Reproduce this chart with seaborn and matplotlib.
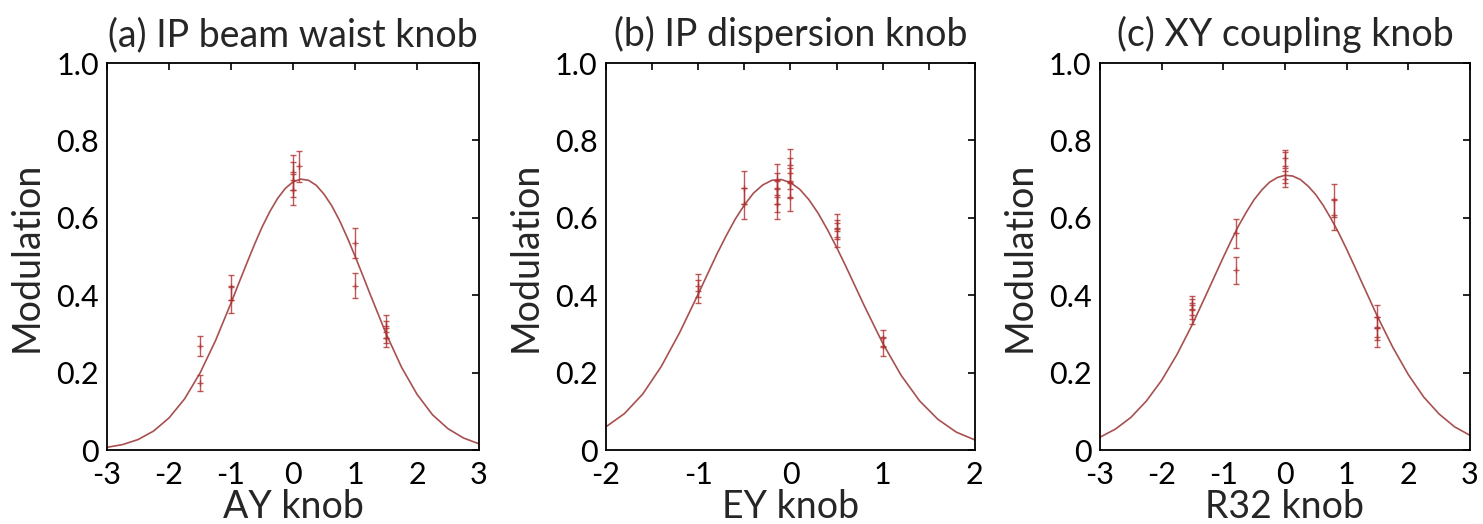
import numpy as np
import pandas as pd
import seaborn as sns
import matplotlib.pyplot as plt

# === fitted curves ===
curve_a_x = [-3.0, -2.75, -2.5, -2.25, -2.0, -1.75, -1.5, -1.25, -1.0, -0.875, -0.75, -0.625, -0.5,
             -0.375, -0.25, -0.125, 0.0, 0.125, 0.25, 0.375, 0.5, 0.625, 0.75, 0.875, 1.0, 1.125,
             1.25, 1.5, 1.75, 2.0, 2.25, 2.5, 2.75, 3.0]
curve_a_y = [0.007, 0.014, 0.027, 0.049, 0.083, 0.132, 0.199, 0.283, 0.380, 0.431, 0.481, 0.530, 0.576,
             0.616, 0.650, 0.676, 0.693, 0.700, 0.697, 0.684, 0.661, 0.631, 0.593, 0.549, 0.501, 0.451,
             0.400, 0.301, 0.214, 0.144, 0.091, 0.055, 0.031, 0.016]

curve_b_x = [-2.0, -1.8, -1.6, -1.4, -1.2, -1.0, -0.9, -0.8, -0.7, -0.6, -0.5, -0.4, -0.3, -0.2, -0.1,
             0.0, 0.1, 0.2, 0.3, 0.4, 0.5, 0.6, 0.7, 0.8, 1.0, 1.2, 1.4, 1.6, 1.8, 2.0]
curve_b_y = [0.060, 0.094, 0.145, 0.216, 0.304, 0.403, 0.454, 0.505, 0.552, 0.596, 0.633, 0.664, 0.685,
             0.697, 0.699, 0.691, 0.674, 0.647, 0.612, 0.570, 0.524, 0.475, 0.424, 0.373, 0.276, 0.193,
             0.127, 0.079, 0.046, 0.026]

curve_c_x = curve_a_x
curve_c_y = [0.033, 0.054, 0.084, 0.126, 0.180, 0.247, 0.325, 0.411, 0.498, 0.540, 0.580, 0.615, 0.647,
             0.672, 0.692, 0.704, 0.710, 0.708, 0.699, 0.682, 0.660, 0.631, 0.597, 0.560, 0.519, 0.476,
             0.432, 0.345, 0.265, 0.195, 0.137, 0.093, 0.060, 0.038]

# === measured points with errors ===
pts_a_x = [-1.5, -1.5, -1.0, -1.0, 0.0, 0.0, 0.0, 0.1, 1.0, 1.0, 1.5, 1.5, 1.5]
pts_a_y = [0.269, 0.173, 0.420, 0.388, 0.718, 0.698, 0.672, 0.733, 0.535, 0.425, 0.320, 0.305, 0.290]
pts_a_e = [0.026, 0.020, 0.033, 0.035, 0.045, 0.045, 0.040, 0.040, 0.038, 0.033, 0.030, 0.028, 0.025]

pts_b_x = [-1.0, -1.0, -0.5, -0.5, -0.15, -0.15, -0.15, -0.15, 0.0, 0.0, 0.0, 0.0, 0.5, 0.5, 0.5, 1.0, 1.0]
pts_b_y = [0.425, 0.410, 0.678, 0.636, 0.698, 0.677, 0.655, 0.636, 0.736, 0.715, 0.690, 0.655,
           0.587, 0.570, 0.550, 0.289, 0.268]
pts_b_e = [0.030, 0.030, 0.042, 0.040, 0.040, 0.040, 0.040, 0.038, 0.042, 0.040, 0.040, 0.038,
           0.022, 0.025, 0.025, 0.022, 0.025]

pts_c_x = [-1.5, -1.5, -1.5, -0.8, -0.8, 0.0, 0.0, 0.0, 0.8, 0.8, 1.5, 1.5, 1.5]
pts_c_y = [0.380, 0.364, 0.350, 0.560, 0.465, 0.755, 0.730, 0.700, 0.645, 0.608, 0.345, 0.315, 0.292]
pts_c_e = [0.018, 0.025, 0.025, 0.038, 0.035, 0.020, 0.040, 0.020, 0.043, 0.040, 0.030, 0.030, 0.025]

titles = ['(a) IP beam waist knob', '(b) IP dispersion knob', '(c) XY coupling knob']
xlabels = ['AY knob', 'EY knob', 'R32 knob']
xlims = [(-3, 3), (-2, 2), (-3, 3)]
yticks = [0, 0.2, 0.4, 0.6, 0.8, 1.0]
ytick_labels = ['0', '0.2', '0.4', '0.6', '0.8', '1.0']

sns.set_style('white')
plt.rcParams['font.family'] = ['Lato', 'DejaVu Sans']
plt.rcParams['axes.unicode_minus'] = False

line_color = '#a85050'
err_color = '#b03030'

fig = plt.figure(figsize=(14.83, 5.24), dpi=100)
lefts = [0.0722, 0.4086, 0.7417]
widths = [0.2508, 0.2488, 0.2495]

curves = [(curve_a_x, curve_a_y), (curve_b_x, curve_b_y), (curve_c_x, curve_c_y)]
points = [(pts_a_x, pts_a_y, pts_a_e), (pts_b_x, pts_b_y, pts_b_e), (pts_c_x, pts_c_y, pts_c_e)]

for i in range(3):
    ax = fig.add_axes([lefts[i], 0.1412, widths[i], 0.7385])
    cdf = pd.DataFrame({'x': curves[i][0], 'y': curves[i][1]})
    sns.lineplot(data=cdf, x='x', y='y', ax=ax, color=line_color, lw=1.2)
    px, py, pe = points[i]
    ax.errorbar(px, py, yerr=pe, fmt='+', color=err_color, ms=4, mew=1.0,
                elinewidth=1.0, capsize=2.5, capthick=1.0, alpha=0.8)
    ax.set_xlim(*xlims[i])
    ax.set_ylim(0, 1)
    if i == 1:
        ax.set_xticks([-2, -1.5, -1, -0.5, 0, 0.5, 1, 1.5, 2])
        ax.set_xticklabels(['-2', '', '-1', '', '0', '', '1', '', '2'])
    else:
        ax.set_xticks(range(xlims[i][0], xlims[i][1] + 1))
    ax.set_yticks(yticks)
    ax.set_yticklabels(ytick_labels)
    ax.tick_params(direction='in', length=5, width=1.2, top=True, right=True,
                   labelsize=22, colors='black')
    ax.tick_params(axis='x', pad=8)
    ax.tick_params(axis='y', pad=6)
    for s in ax.spines.values():
        s.set_linewidth(1.3)
        s.set_color('black')
    ax.set_title(titles[i], fontsize=27, pad=12)
    ax.set_xlabel(xlabels[i], fontsize=27, labelpad=0)
    ax.set_ylabel('Modulation', fontsize=27, labelpad=8)

plt.savefig('out.png', dpi=100)
